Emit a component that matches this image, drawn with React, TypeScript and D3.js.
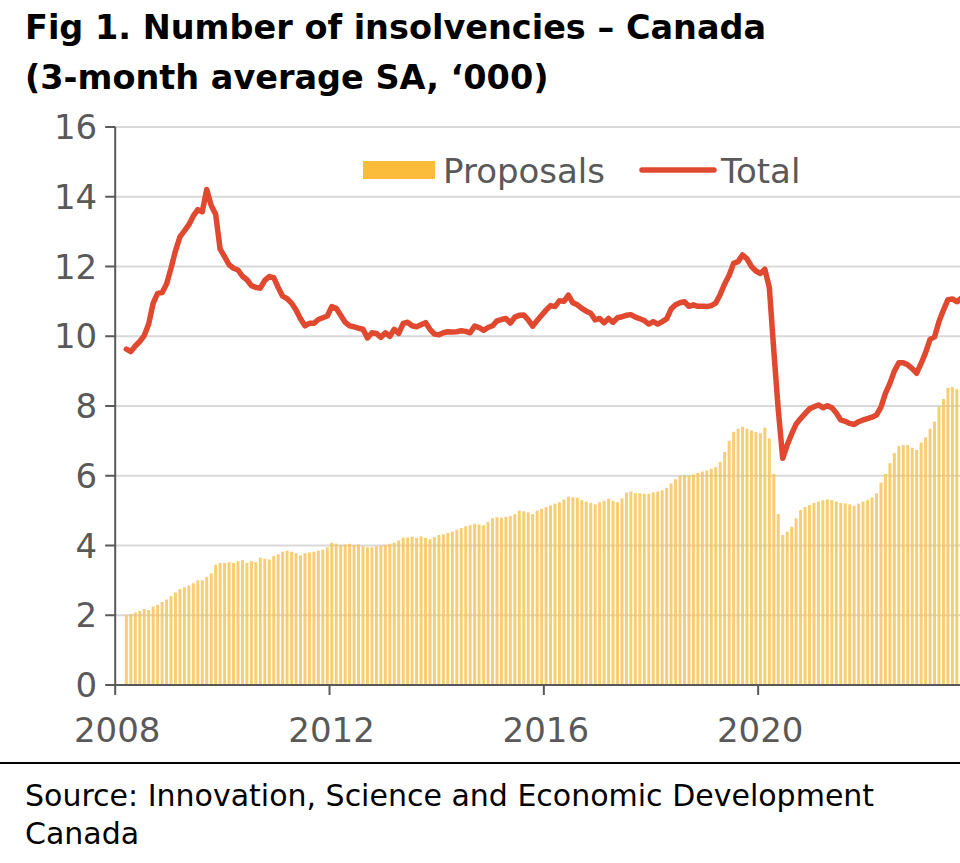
import React from "react";
import * as d3 from "d3";

const START_MONTH = 2; // March 2008 (months counted from Jan 2008)
const BASE_YEAR = 2008;

const totalValues = [
  9.63, 9.56, 9.72, 9.85, 10.02, 10.35, 10.95, 11.23, 11.25, 11.5,
  11.95, 12.45, 12.85, 13.02, 13.2, 13.45, 13.63, 13.57, 14.21, 13.75, 13.5, 12.5,
  12.28, 12.05, 11.95, 11.9, 11.72, 11.62, 11.45, 11.4, 11.38, 11.6, 11.71, 11.68,
  11.4, 11.15, 11.08, 10.95, 10.75, 10.5, 10.3, 10.37, 10.37, 10.48, 10.53, 10.58,
  10.85, 10.8, 10.6, 10.4, 10.3, 10.27, 10.23, 10.2, 9.95, 10.1, 10.08, 9.97,
  10.1, 10.0, 10.2, 10.08, 10.37, 10.4, 10.3, 10.27, 10.33, 10.39, 10.2, 10.06,
  10.04, 10.1, 10.13, 10.12, 10.13, 10.16, 10.14, 10.1, 10.29, 10.25, 10.17, 10.25,
  10.3, 10.44, 10.48, 10.51, 10.38, 10.55, 10.6, 10.61, 10.47, 10.29, 10.45, 10.6,
  10.75, 10.88, 10.85, 11.02, 11.0, 11.18, 10.96, 10.9, 10.8, 10.72, 10.66, 10.47,
  10.51, 10.39, 10.51, 10.4, 10.53, 10.56, 10.6, 10.62, 10.55, 10.5, 10.45, 10.35,
  10.42, 10.35, 10.42, 10.5, 10.78, 10.9, 10.96, 10.99, 10.86, 10.9, 10.86, 10.86,
  10.85, 10.88, 10.95, 11.2, 11.5, 11.75, 12.09, 12.14, 12.33, 12.22, 12.0, 11.87,
  11.8, 11.92, 11.4, 9.6, 7.9, 6.5, 6.88, 7.2, 7.48, 7.64, 7.78, 7.92,
  7.98, 8.03, 7.95, 8.01, 7.95, 7.8, 7.6, 7.56, 7.5, 7.47, 7.55, 7.6,
  7.64, 7.68, 7.74, 7.97, 8.36, 8.65, 9.0, 9.24, 9.24, 9.18, 9.07, 8.94,
  9.22, 9.53, 9.91, 9.98, 10.42, 10.75, 11.05, 11.07, 10.99, 11.09,
];

const proposalValues = [
  2.0, 2.03, 2.08, 2.12, 2.18, 2.15, 2.25, 2.3, 2.38, 2.45,
  2.55, 2.65, 2.75, 2.8, 2.85, 2.92, 3.0, 3.0, 3.1, 3.2, 3.45, 3.5,
  3.5, 3.52, 3.5, 3.55, 3.58, 3.5, 3.55, 3.52, 3.65, 3.62, 3.6, 3.7,
  3.75, 3.82, 3.85, 3.82, 3.78, 3.72, 3.78, 3.8, 3.82, 3.85, 3.88, 3.95,
  4.08, 4.05, 4.02, 4.03, 4.05, 4.02, 4.03, 3.98, 3.95, 3.95, 3.98, 4.0,
  4.02, 4.05, 4.08, 4.15, 4.22, 4.23, 4.25, 4.22, 4.26, 4.22, 4.18, 4.24,
  4.3, 4.32, 4.36, 4.4, 4.45, 4.5, 4.55, 4.58, 4.62, 4.6, 4.58, 4.68,
  4.78, 4.81, 4.8, 4.82, 4.84, 4.9, 5.0, 4.98, 4.95, 4.9, 5.0, 5.05,
  5.1, 5.15, 5.2, 5.24, 5.32, 5.4, 5.38, 5.37, 5.3, 5.26, 5.22, 5.18,
  5.24, 5.28, 5.34, 5.28, 5.24, 5.35, 5.52, 5.55, 5.5, 5.5, 5.48, 5.48,
  5.52, 5.55, 5.58, 5.65, 5.78, 5.9, 6.0, 6.02, 6.0, 6.03, 6.08, 6.12,
  6.15, 6.2, 6.25, 6.4, 6.68, 7.0, 7.26, 7.35, 7.4, 7.35, 7.3, 7.25,
  7.22, 7.38, 7.07, 6.05, 4.9, 4.3, 4.4, 4.54, 4.78, 5.02, 5.1, 5.16,
  5.22, 5.26, 5.3, 5.32, 5.3, 5.26, 5.22, 5.21, 5.18, 5.14, 5.2, 5.26,
  5.3, 5.38, 5.5, 5.8, 6.05, 6.36, 6.65, 6.85, 6.88, 6.88, 6.8, 6.74,
  6.95, 7.1, 7.35, 7.55, 7.98, 8.2, 8.52, 8.54, 8.48,
];

const yTicks = [0, 2, 4, 6, 8, 10, 12, 14, 16];
const xTickYears = [2008, 2012, 2016, 2020];

const titleLines = ["Fig 1. Number of insolvencies \u2013 Canada", "(3-month average SA, \u2018000)"];
const sourceLines = ["Source: Innovation, Science and Economic Development", "Canada"];
const legendLabels = ["Proposals", "Total"];

const FONT = "'DejaVu Sans', Verdana, sans-serif";
const BAR_COLOR = "#F8C04E";
const LEGEND_BAR = "#FBBC3C";
const LINE_COLOR = "#E0492F";
const AXIS_COLOR = "#595959";
const GRID_COLOR = "#D9D9D9";

export default function App() {
  const W = 960;
  const H = 863;
  const monthW = 4.465;
  const x0 = 115.2;
  const nMonths = 192;
  const x = d3.scaleLinear().domain([0, nMonths]).range([x0, x0 + nMonths * monthW]);
  const y = d3.scaleLinear().domain([0, 16]).range([685, 127]);

  const totalPts = totalValues.map((v, i) => ({ m: START_MONTH + i, v }));
  const propPts = proposalValues.map((v, i) => ({ m: START_MONTH + i, v }));

  const line = d3
    .line<{ m: number; v: number }>()
    .x((d) => x(d.m + 0.5))
    .y((d) => y(d.v));

  const barW = monthW * 0.66;
  const plotRight = W + 5;

  return (
    <svg
      width={W}
      height={H}
      style={{ position: "absolute", left: 0, top: 0, background: "#fff" }}
      fontFamily={FONT}
    >
      <rect x={0} y={0} width={W} height={H} fill="#fff" />
      {/* Title */}
      {titleLines.map((t, i) => (
        <text key={t} x={25} y={39 + i * 50} fontSize={33.5} fontWeight="bold" fill="#000">
          {t}
        </text>
      ))}

      {/* Gridlines */}
      {yTicks
        .filter((t) => t > 0)
        .map((t) => (
          <line key={"g" + t} x1={x0} x2={plotRight} y1={y(t)} y2={y(t)} stroke={GRID_COLOR} strokeWidth={2} />
        ))}

      {/* Bars */}
      {propPts.map((d) => (
        <rect
          key={"b" + d.m}
          x={x(d.m + 0.5) - barW / 2}
          y={y(d.v)}
          width={barW}
          height={y(0) - y(d.v)}
          fill={BAR_COLOR}
          fillOpacity={0.8}
        />
      ))}

      {/* Line */}
      <path d={line(totalPts) || ""} fill="none" stroke={LINE_COLOR} strokeWidth={5.5} strokeLinejoin="round" strokeLinecap="round" />

      {/* Y axis */}
      <line x1={x0} x2={x0} y1={y(16)} y2={y(0)} stroke={AXIS_COLOR} strokeWidth={2} />
      {yTicks.map((t) => (
        <g key={"yt" + t}>
          <line x1={x0 - 10} x2={x0} y1={y(t)} y2={y(t)} stroke={AXIS_COLOR} strokeWidth={2} />
          <text x={x0 - 18} y={y(t)} dy="0.36em" textAnchor="end" fontSize={34} fill={AXIS_COLOR}>
            {t}
          </text>
        </g>
      ))}

      {/* X axis */}
      <line x1={x0} x2={plotRight} y1={y(0)} y2={y(0)} stroke={AXIS_COLOR} strokeWidth={2} />
      {xTickYears.map((yr) => {
        const xp = x((yr - BASE_YEAR) * 12);
        return (
          <g key={"xt" + yr}>
            <line x1={xp} x2={xp} y1={y(0)} y2={y(0) + 10} stroke={AXIS_COLOR} strokeWidth={2} />
            <text x={xp + 2} y={742} textAnchor="middle" fontSize={34} fill={AXIS_COLOR}>
              {yr}
            </text>
          </g>
        );
      })}

      {/* Legend */}
      <rect x={363} y={161} width={72} height={18} fill={LEGEND_BAR} />
      <text x={443} y={183} fontSize={34} fill={AXIS_COLOR}>
        {legendLabels[0]}
      </text>
      <line x1={642} x2={714} y1={170} y2={170} stroke={LINE_COLOR} strokeWidth={5.5} strokeLinecap="round" />
      <text x={721} y={183} fontSize={34} fill={AXIS_COLOR}>
        {legendLabels[1]}
      </text>

      {/* Separator */}
      <line x1={0} x2={W} y1={763} y2={763} stroke="#000" strokeWidth={2} />

      {/* Source */}
      {sourceLines.map((t, i) => (
        <text key={t} x={25} y={806 + i * 38} fontSize={30} fill="#000">
          {t}
        </text>
      ))}
    </svg>
  );
}
